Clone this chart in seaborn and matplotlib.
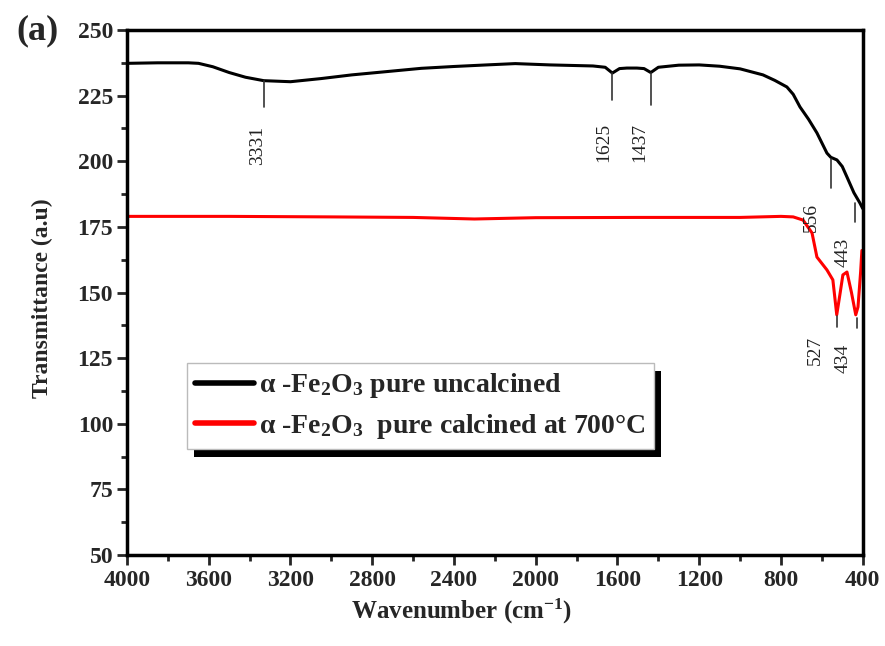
import matplotlib
matplotlib.use("Agg")
import matplotlib.pyplot as plt
from matplotlib.patches import Rectangle
from matplotlib.transforms import IdentityTransform
import seaborn as sns
import pandas as pd

# FTIR spectra of alpha-Fe2O3
wn_uncalcined = [4000, 3850, 3700, 3650, 3580, 3500, 3420, 3331, 3200, 3050, 2900, 2750,
                 2560, 2400, 2240, 2100, 1930, 1720, 1660, 1625, 1590, 1554, 1505, 1470,
                 1437, 1400, 1300, 1200, 1100, 1000, 888, 830, 771, 740, 707, 665, 624,
                 575, 556, 526, 500, 477, 443, 413, 400]
t_uncalcined = [237.3, 237.5, 237.5, 237.3, 236.0, 233.8, 232.0, 230.7, 230.3, 231.5, 232.9, 234.0,
                235.4, 236.1, 236.7, 237.2, 236.7, 236.3, 235.8, 233.6, 235.3, 235.5, 235.5, 235.3,
                233.8, 235.8, 236.6, 236.7, 236.2, 235.2, 232.9, 230.8, 228.3, 225.5, 220.7, 216.0, 210.8,
                203.1, 201.5, 200.5, 198.0, 194.0, 188.0, 184.0, 182.0]

wn_calcined = [4000, 3500, 3000, 2600, 2300, 2000, 1500, 1000, 800, 740, 692, 648, 624,
               575, 546, 527, 510, 497, 477, 455, 434, 423, 410, 404, 400]
t_calcined = [179.0, 179.0, 178.8, 178.6, 178.0, 178.5, 178.6, 178.6, 179.0, 178.8, 177.6, 172.7, 163.5,
              158.6, 154.8, 141.5, 150.0, 156.7, 157.8, 150.0, 141.5, 144.5, 158.0, 166.0, 166.0]

series_names = [r"α -Fe$_{\mathbf{2}}$O$_{\mathbf{3}}$ pure uncalcined",
                r"α -Fe$_{\mathbf{2}}$O$_{\mathbf{3}}$  pure calcined at 700°C"]
series_colors = ["#000000", "#ff0000"]

# peak labels: wavenumber, tick top/bottom, label position
peak_labels = ["3331", "1625", "1437", "556", "443", "527", "434"]
peak_wn = [3331, 1625, 1437, 556, 438, 527, 428]
peak_tick_top = [230.7, 233.6, 233.8, 200.8, 184.0, 141.0, 140.3]
peak_tick_bottom = [220.7, 223.3, 221.4, 190.0, 176.8, 136.8, 136.5]
peak_text_wn = [3360, 1665, 1490, 650, 497, 634, 497]
peak_text_t = [206.2, 207.3, 207.3, 178.5, 165.4, 128.0, 125.0]

x_ticks = [4000, 3600, 3200, 2800, 2400, 2000, 1600, 1200, 800, 400]
y_ticks = [50, 75, 100, 125, 150, 175, 200, 225, 250]

df = pd.concat([
    pd.DataFrame({"Wavenumber": wn_uncalcined, "Transmittance": t_uncalcined, "Sample": series_names[0]}),
    pd.DataFrame({"Wavenumber": wn_calcined, "Transmittance": t_calcined, "Sample": series_names[1]}),
])

sns.set_style("ticks")
plt.rcParams["font.family"] = ["Liberation Serif", "DejaVu Serif"]
plt.rcParams["font.weight"] = "bold"
plt.rcParams["mathtext.fontset"] = "custom"
plt.rcParams["mathtext.rm"] = "Liberation Serif:bold"
plt.rcParams["mathtext.bf"] = "Liberation Serif:bold"
plt.rcParams["mathtext.it"] = "Liberation Serif:bold"

fig = plt.figure(figsize=(8.85, 6.46), dpi=100)
ax = fig.add_axes([127 / 885, 1 - 555 / 646, 735.7 / 885, 525 / 646])

sns.lineplot(data=df, x="Wavenumber", y="Transmittance", hue="Sample",
             palette=dict(zip(series_names, series_colors)), sort=False,
             estimator=None, linewidth=2.2, ax=ax, legend=False)

ax.set_xlim(4000, 400)
ax.set_ylim(50, 250)
ax.set_xticks(x_ticks)
ax.set_yticks(y_ticks)
ax.set_xticks(range(3800, 400, -400), minor=True)
ax.set_yticks([62.5 + 25 * i for i in range(8)], minor=True)
ax.tick_params(axis="both", which="major", direction="out", length=7, width=2,
               labelsize=17, top=False, right=False)
ax.tick_params(axis="x", which="major", pad=4)
ax.tick_params(axis="y", which="major", pad=3)
ax.tick_params(axis="both", which="minor", direction="out", length=4, width=2,
               top=False, right=False)
for lbl in ax.get_xticklabels() + ax.get_yticklabels():
    lbl.set_fontweight("bold")
for side in ["left", "right", "top", "bottom"]:
    ax.spines[side].set_linewidth(2.5)
    ax.spines[side].set_color("black")
ax.set_xlabel("")
ax.set_ylabel("")

# peak markers
for lab, w, t0, t1, tw, tt in zip(peak_labels, peak_wn, peak_tick_top, peak_tick_bottom,
                                   peak_text_wn, peak_text_t):
    ax.plot([w, w], [t0, t1], color="#333333", linewidth=1.2)
    ax.text(tw, tt, lab, rotation=90, ha="center", va="center", fontsize=14,
            fontweight="normal", color="#222222")

# legend
handles = [plt.Line2D([], [], color=c, linewidth=4) for c in series_colors]
leg = ax.legend(handles, series_names, loc="upper left",
                bbox_to_anchor=((187 - 127) / 735.7, (555 - 363) / 525),
                borderaxespad=0, frameon=True, fancybox=False,
                handlelength=2.1, handletextpad=0.2, borderpad=0.3,
                labelspacing=0.42, prop={"weight": "bold", "size": 20})
leg.get_frame().set_edgecolor("#bbbbbb")
leg.get_frame().set_linewidth(1.0)
leg.get_frame().set_facecolor("white")
leg.get_frame().set_alpha(1)
leg.set_zorder(6)

fig.canvas.draw()
bb = leg.get_window_extent()
ax.add_patch(Rectangle((bb.x0 + 7, bb.y0 - 8), bb.width, bb.height,
                       transform=IdentityTransform(), facecolor="black",
                       edgecolor="none", zorder=5.5, clip_on=False))

fig.text(462 / 885, 1 - 611 / 646, r"Wavenumber (cm$^{\mathbf{-1}}$)", ha="center", va="center",
         fontsize=18, fontweight="bold")
fig.text(42 / 885, 1 - 298 / 646, "Transmittance (a.u)", ha="center", va="center",
         rotation=90, fontsize=17, fontweight="bold")
fig.text(37 / 885, 1 - 31 / 646, "(a)", ha="center", va="center",
         fontsize=26, fontweight="bold")

fig.savefig("out.png", dpi=100, facecolor="white")
